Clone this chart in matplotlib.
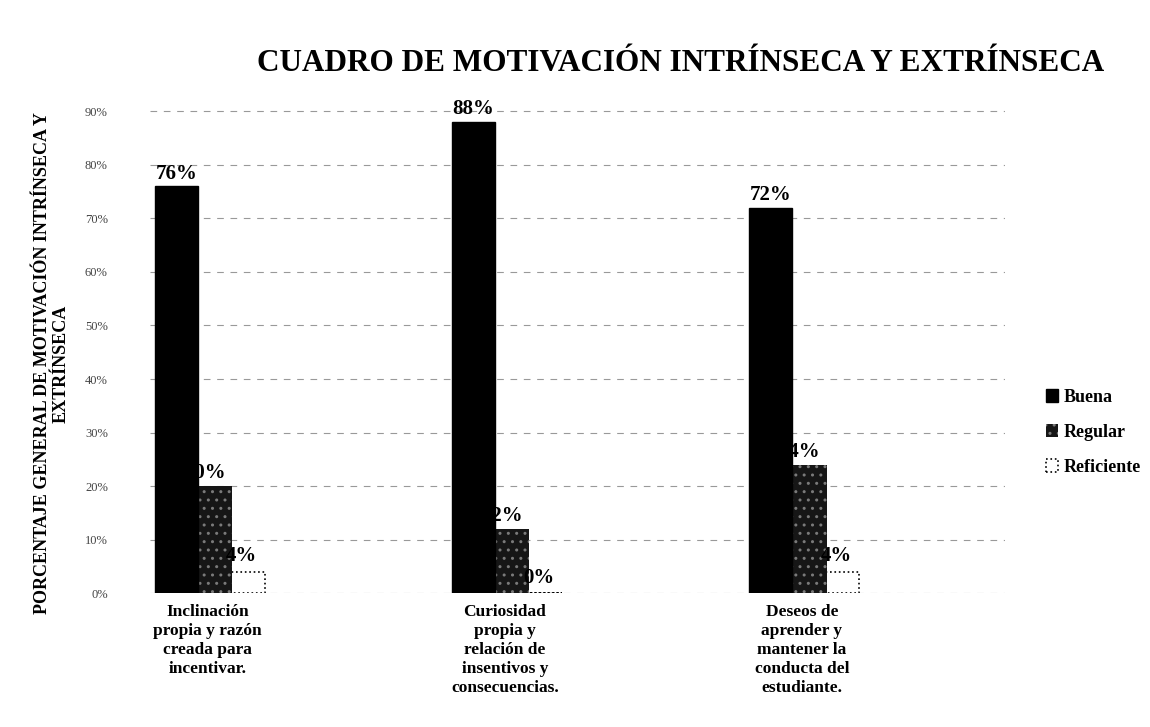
import matplotlib
matplotlib.use("Agg")
import matplotlib.pyplot as plt
import numpy as np

plt.rcParams['font.family'] = ['Liberation Serif', 'DejaVu Serif']

categories = ["Inclinación\npropia y razón\ncreada para\nincentivar.",
              "Curiosidad\npropia y\nrelación de\ninsentivos y\nconsecuencias.",
              "Deseos de\naprender y\nmantener la\nconducta del\nestudiante."]
series_names = ["Buena", "Regular", "Reficiente"]
buena = [76, 88, 72]
regular = [20, 12, 24]
deficiente = [4, 0, 4]
y_ticks = [0, 10, 20, 30, 40, 50, 60, 70, 80, 90]

fig = plt.figure(figsize=(11.5, 7.27), dpi=100)
ax = fig.add_axes([0.130, 0.184, 0.744, 0.685])

x = np.arange(len(categories))
w = 0.135

# back to front: Reficiente, Regular, Buena
b3 = ax.bar(x + 0.125, deficiente, w, color='white', edgecolor='black',
            linestyle=':', linewidth=1.2, zorder=2, label=series_names[2])
b2 = ax.bar(x + 0.015, regular, w, color='#161616', edgecolor='#7a7a7a',
            hatch='..', linewidth=0.0, zorder=3, label=series_names[1])
b1 = ax.bar(x - 0.105, buena, 0.145, color='black', edgecolor='black',
            zorder=4, label=series_names[0])

lbl = dict(fontsize=15, fontweight='bold', ha='center', va='bottom')
for xi, v in zip(x - 0.105, buena):
    ax.text(xi, v + 0.5, f"{v}%", zorder=5, **lbl)
# partly hidden behind the Buena bar, as in the original
for xi, v in zip(x + 0.015, regular):
    ax.text(xi - 0.025, v + 0.5, f"{v}%", zorder=3.5, **lbl)
for xi, v in zip(x + 0.125, deficiente):
    ax.text(xi - 0.01, v + 1.0, f"{v}%", zorder=6, **lbl)

ax.set_xlim(-0.195, 2.683)
ax.set_ylim(0, 93)
ax.set_yticks(y_ticks)
ax.set_yticklabels([f"{t}%" for t in y_ticks], fontsize=9, color='#444444')
ax.set_xticks(x)
ax.set_xticklabels(categories, fontsize=12.5, fontweight='bold', linespacing=1.25)
ax.tick_params(axis='both', length=0)
ax.tick_params(axis='y', pad=30)
ax.tick_params(axis='x', pad=8)
for s in ax.spines.values():
    s.set_visible(False)
ax.yaxis.grid(True, linestyle=(0, (6, 6)), color='#999999', linewidth=0.8)
ax.set_axisbelow(True)

fig.text(0.592, 0.912, "CUADRO DE MOTIVACIÓN INTRÍNSECA Y EXTRÍNSECA",
         fontsize=22.5, fontweight='bold', ha='center', va='center')
fig.text(0.045, 0.5, "PORCENTAJE GENERAL DE MOTIVACIÓN INTRÍNSECA Y\nEXTRÍNSECA",
         rotation=90, fontsize=13, fontweight='bold', ha='center', va='center',
         multialignment='center', linespacing=1.1)

fig.legend(handles=[b1, b2, b3], labels=series_names, loc='center left',
           bbox_to_anchor=(0.895, 0.405), frameon=False,
           prop={'size': 13, 'weight': 'bold'}, handlelength=0.7,
           handleheight=0.7, handletextpad=0.3, labelspacing=1.0)

plt.savefig("out.png", dpi=100)
